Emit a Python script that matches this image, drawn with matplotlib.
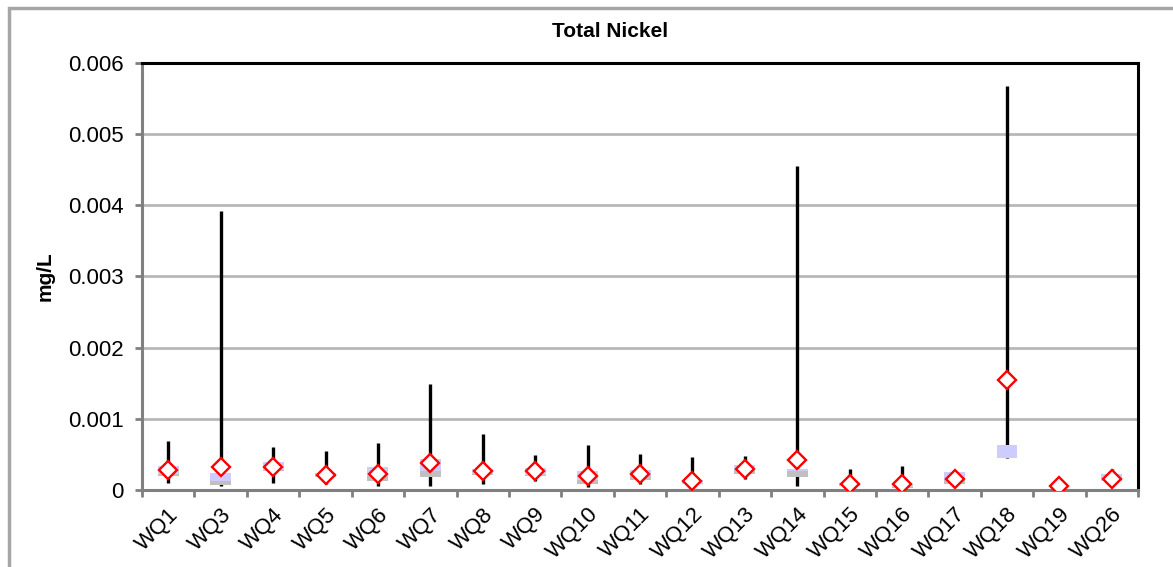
import matplotlib.pyplot as plt
import numpy as np
from matplotlib.patches import Rectangle

plt.rcParams['font.family'] = ['Liberation Sans', 'DejaVu Sans']

sites = ['WQ1', 'WQ3', 'WQ4', 'WQ5', 'WQ6', 'WQ7', 'WQ8', 'WQ9', 'WQ10', 'WQ11',
         'WQ12', 'WQ13', 'WQ14', 'WQ15', 'WQ16', 'WQ17', 'WQ18', 'WQ19', 'WQ26']

# min / max whiskers (mg/L)
ni_min = [0.00010, 0.00005, 0.00010, 0.00008, 0.00005, 0.00006, 0.00009, 0.00012, 0.00004, 0.00008,
          0.00008, 0.00015, 0.00005, 0.00000, 0.00000, 0.00010, 0.00045, 0.00006, 0.00012]
ni_max = [0.00069, 0.00392, 0.00060, 0.00055, 0.00066, 0.00149, 0.00079, 0.00049, 0.00063, 0.00050,
          0.00046, 0.00048, 0.00455, 0.00030, 0.00034, 0.00025, 0.00568, 0.00006, 0.00030]
# 25th percentile, median, 75th percentile
ni_q1 = [0.00020, 0.00007, 0.00026, 0.00018, 0.00012, 0.00018, 0.00021, 0.00020, 0.00008, 0.00014,
         0.00008, 0.00023, 0.00018, 0.00006, 0.00003, 0.00009, 0.00045, 0.00006, 0.00012]
ni_med = [0.00022, 0.00012, 0.00028, 0.00019, 0.00020, 0.00026, 0.00022, 0.00021, 0.00014, 0.00021,
          0.00009, 0.00028, 0.00027, 0.00007, 0.00004, 0.00014, 0.00045, 0.00006, 0.00013]
ni_q3 = [0.00034, 0.00024, 0.00039, 0.00024, 0.00032, 0.00043, 0.00030, 0.00031, 0.00026, 0.00028,
         0.00014, 0.00035, 0.00030, 0.00010, 0.00009, 0.00025, 0.00063, 0.00006, 0.00022]
# mean
ni_mean = [0.00028, 0.00033, 0.00033, 0.00021, 0.00023, 0.00038, 0.00026, 0.00027, 0.00019, 0.00023,
           0.00013, 0.00029, 0.00042, 0.00009, 0.00008, 0.00016, 0.00155, 0.00006, 0.00016]

x = np.arange(len(sites))
ni_min = np.array(ni_min)
ni_max = np.array(ni_max)
ni_q1 = np.array(ni_q1)
ni_med = np.array(ni_med)
ni_q3 = np.array(ni_q3)

fig = plt.figure(figsize=(11.73, 5.67), dpi=100)
ax = fig.add_axes([0.1211, 0.1358, 0.8491, 0.7531])

# outer chart frame
fig.patches.append(Rectangle((0.0075, -0.05), 1.05, 1.036, transform=fig.transFigure,
                             fill=False, edgecolor='#a6a6a6', linewidth=2.5, zorder=0))

ax.vlines(x, ni_min, ni_max, color='black', linewidth=2.4, zorder=2)
ax.bar(x, ni_med - ni_q1, bottom=ni_q1, width=0.4, color='#c0c0c0', zorder=3)
ax.bar(x, ni_q3 - ni_med, bottom=ni_med, width=0.4, color='#ccccff', zorder=3)
ax.plot(x, ni_mean, linestyle='none', marker='D', markersize=9.5,
        markerfacecolor='white', markeredgecolor='red', markeredgewidth=1.7, zorder=4)

ax.set_xlim(-0.5, len(sites) - 0.5)
ax.set_ylim(0, 0.006)
ax.set_yticks(np.arange(0, 0.0061, 0.001))
ax.set_yticklabels(['0', '0.001', '0.002', '0.003', '0.004', '0.005', '0.006'], fontsize=16)
ax.set_xticks(x)
ax.set_xticklabels(sites, fontsize=16, rotation=45, ha='right', rotation_mode='anchor')
ax.set_xticks(np.arange(-0.5, len(sites)), minor=True)
ax.tick_params(axis='x', which='major', length=0, pad=10)
ax.tick_params(axis='x', which='minor', length=5, width=2, color='#808080')
ax.tick_params(axis='y', length=5, width=2, color='#808080', pad=8)

ax.grid(axis='y', color='#b8b8b8', linewidth=2)
ax.set_axisbelow(True)
for s in ['left', 'bottom']:
    ax.spines[s].set_color('#808080')
    ax.spines[s].set_linewidth(2.2)
for s in ['top', 'right']:
    ax.spines[s].set_color('black')
    ax.spines[s].set_linewidth(2.2)

ax.set_ylabel('mg/L', fontsize=15, fontweight='bold', labelpad=10)
fig.text(0.52, 0.945, 'Total Nickel', fontsize=15, fontweight='bold', ha='center', va='center')

fig.savefig('out.png', dpi=100)
